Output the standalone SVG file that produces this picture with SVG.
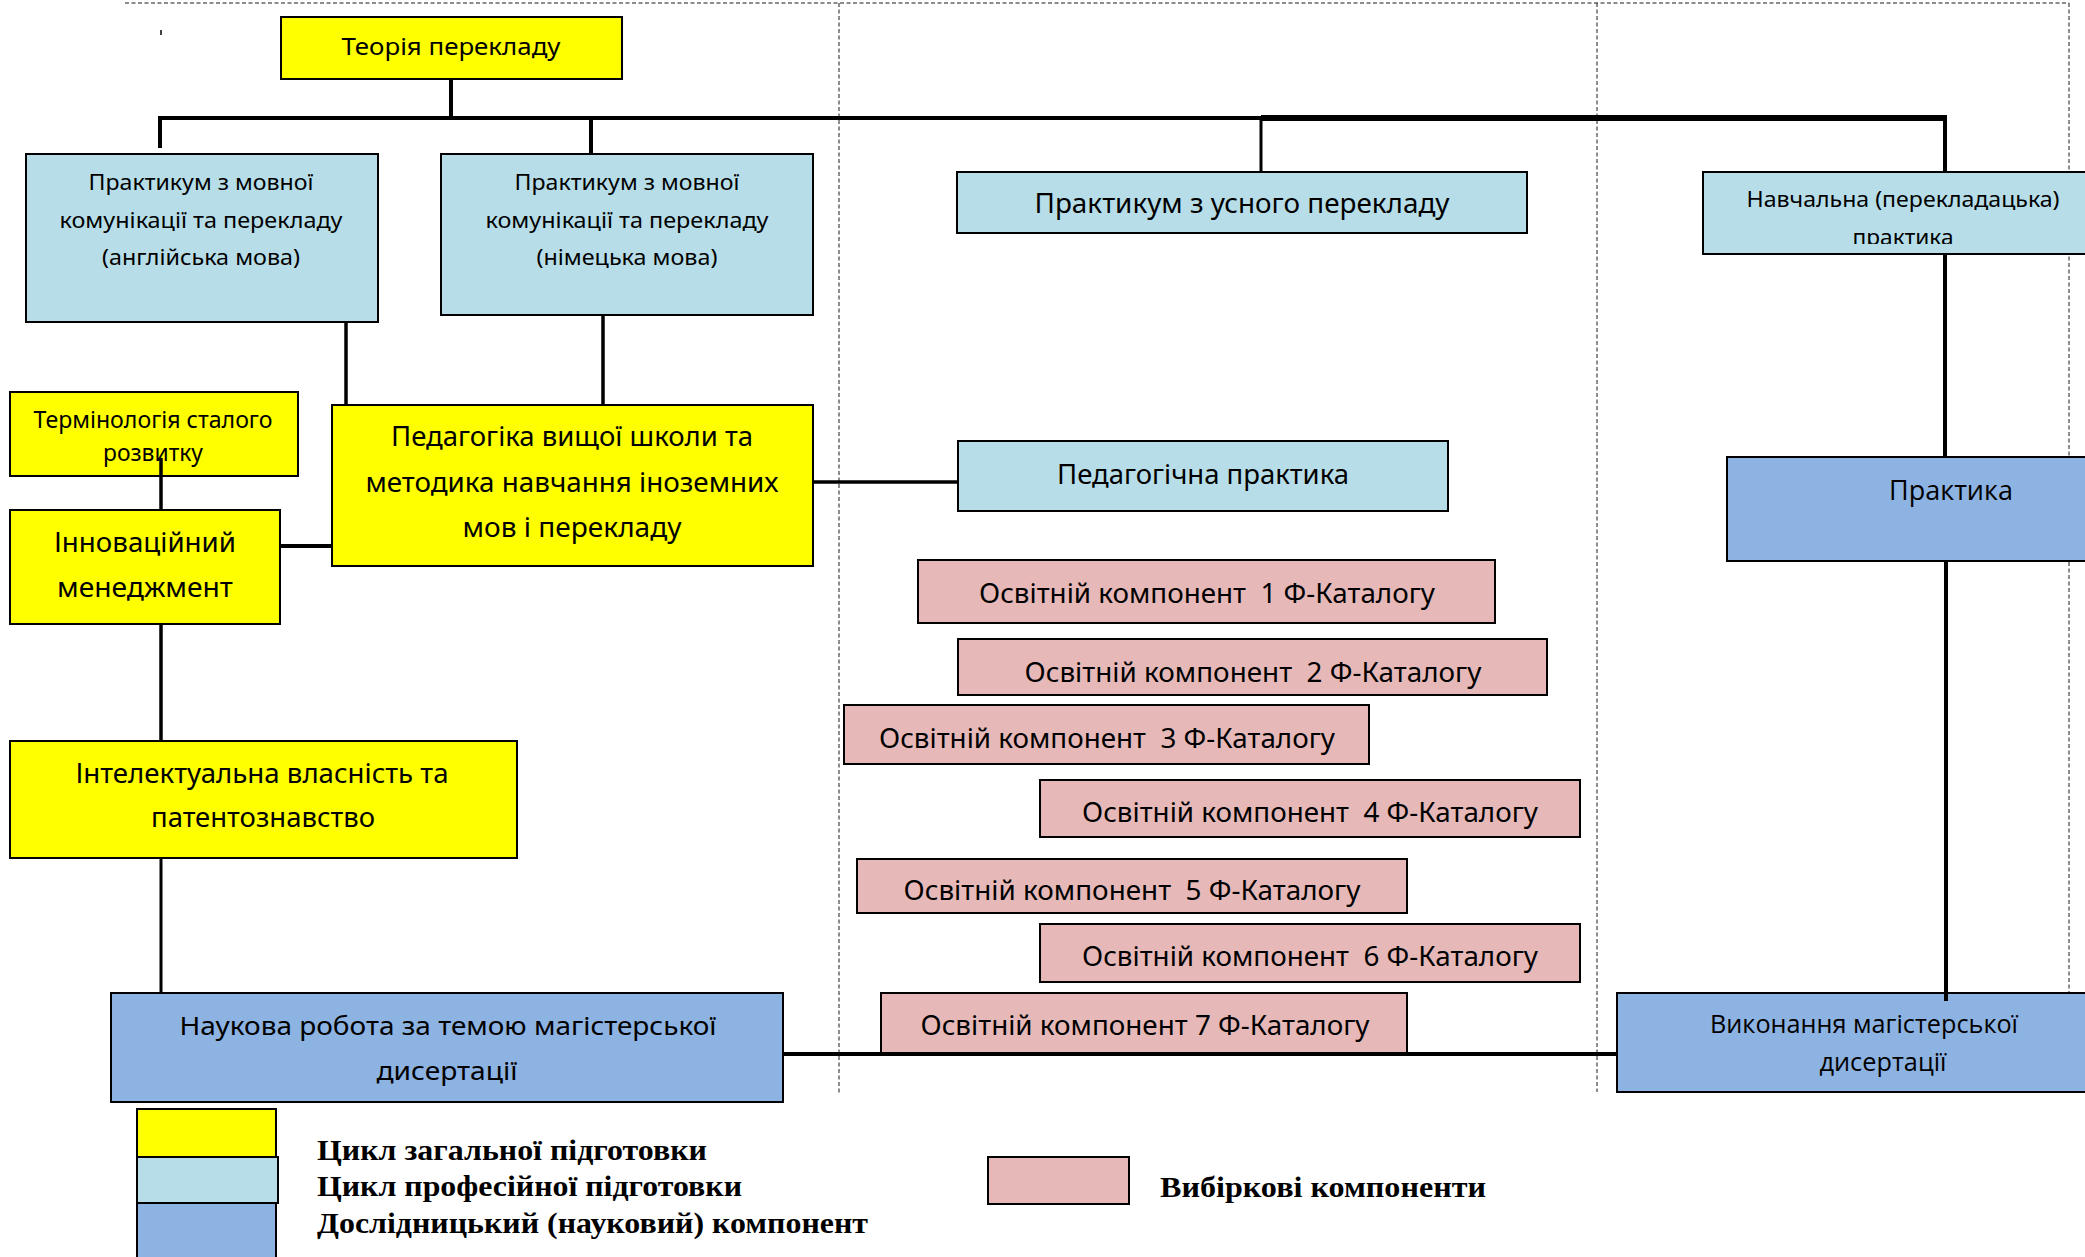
<svg xmlns="http://www.w3.org/2000/svg" width="2085" height="1257" viewBox="0 0 2085 1257">
<style>
.bx{stroke:#000;stroke-width:2}
.y{fill:#FFFF00}
.lb{fill:#B7DEE8}
.b{fill:#8DB3E2}
.p{fill:#E6B9B8}
.t{font-family:"Noto Sans","Open Sans",sans-serif;fill:#000;text-anchor:middle}
.o{font-family:"Open Sans","Noto Sans",sans-serif;fill:#000;text-anchor:middle}
.lg{font-family:"Liberation Serif","Times New Roman",serif;font-weight:bold;font-size:30px;fill:#000}
.c{stroke:#000;fill:none;stroke-linecap:butt}
.d{stroke:#1a1a1a;stroke-width:1;stroke-dasharray:4 2.5;fill:none}
</style>
<defs>
<clipPath id="clipNav"><rect x="1703" y="172" width="390" height="72"/></clipPath>
</defs>
<rect width="2085" height="1257" fill="#fff"/>
<g id="guides">
<line class="d" x1="125" y1="3" x2="2069" y2="3" stroke-dasharray="3 1.5"/>
<line class="d" x1="839" y1="3" x2="839" y2="1093"/>
<line class="d" x1="1597" y1="3" x2="1597" y2="1092"/>
<line class="d" x1="2069" y1="3" x2="2069" y2="992"/>
<line x1="161" y1="30" x2="161" y2="35" stroke="#000" stroke-width="1.5"/>
</g>
<g id="nodes">
<g id="n-teoria"><rect class="bx y" x="281" y="17" width="341" height="62"/>
<text class="t" x="451" y="55" font-size="23" textLength="219" lengthAdjust="spacingAndGlyphs">Теорія перекладу</text></g>
<g id="n-eng"><rect class="bx lb" x="26" y="154" width="352" height="168"/>
<text class="t" x="201" y="190" font-size="21" textLength="225" lengthAdjust="spacingAndGlyphs">Практикум з мовної</text>
<text class="t" x="201" y="228" font-size="21" textLength="283" lengthAdjust="spacingAndGlyphs">комунікації та перекладу</text>
<text class="t" x="201" y="265" font-size="21" textLength="198" lengthAdjust="spacingAndGlyphs">(англійська мова)</text></g>
<g id="n-ger"><rect class="bx lb" x="441" y="154" width="372" height="161"/>
<text class="t" x="627" y="190" font-size="21" textLength="225" lengthAdjust="spacingAndGlyphs">Практикум з мовної</text>
<text class="t" x="627" y="228" font-size="21" textLength="283" lengthAdjust="spacingAndGlyphs">комунікації та перекладу</text>
<text class="t" x="627" y="265" font-size="21" textLength="181" lengthAdjust="spacingAndGlyphs">(німецька мова)</text></g>
<g id="n-oral"><rect class="bx lb" x="957" y="172" width="570" height="61"/>
<text class="t" x="1242" y="213" font-size="27" textLength="415" lengthAdjust="spacingAndGlyphs">Практикум з усного перекладу</text></g>
<g id="n-navch"><rect class="bx lb" x="1703" y="172" width="390" height="82"/>
<text class="t" x="1903" y="207" font-size="22" textLength="313" lengthAdjust="spacingAndGlyphs">Навчальна (перекладацька)</text>
<text class="t" x="1903" y="245" font-size="22" textLength="101" lengthAdjust="spacingAndGlyphs" clip-path="url(#clipNav)">практика</text></g>
<g id="n-term"><rect class="bx y" x="10" y="392" width="288" height="84"/>
<text class="t" x="153" y="428" font-size="23" textLength="239" lengthAdjust="spacingAndGlyphs">Термінологія сталого</text>
<text class="t" x="153" y="461" font-size="23" textLength="100" lengthAdjust="spacingAndGlyphs">розвитку</text></g>
<g id="n-innov"><rect class="bx y" x="10" y="510" width="270" height="114"/>
<text class="t" x="145" y="552" font-size="28" textLength="182" lengthAdjust="spacingAndGlyphs">Інноваційний</text>
<text class="t" x="145" y="597" font-size="28" textLength="176" lengthAdjust="spacingAndGlyphs">менеджмент</text></g>
<g id="n-ped"><rect class="bx y" x="332" y="405" width="481" height="161"/>
<text class="t" x="572" y="446" font-size="28" textLength="362" lengthAdjust="spacingAndGlyphs">Педагогіка вищої школи та</text>
<text class="t" x="572" y="492" font-size="28" textLength="413" lengthAdjust="spacingAndGlyphs">методика навчання іноземних</text>
<text class="t" x="572" y="537" font-size="28" textLength="219" lengthAdjust="spacingAndGlyphs">мов і перекладу</text></g>
<g id="n-intel"><rect class="bx y" x="10" y="741" width="507" height="117"/>
<text class="t" x="262" y="783" font-size="28" textLength="373" lengthAdjust="spacingAndGlyphs">Інтелектуальна власність та</text>
<text class="t" x="263" y="827" font-size="28" textLength="224" lengthAdjust="spacingAndGlyphs">патентознавство</text></g>
<g id="n-pedprac"><rect class="bx lb" x="958" y="441" width="490" height="70"/>
<text class="t" x="1203" y="484" font-size="28" textLength="292" lengthAdjust="spacingAndGlyphs">Педагогічна практика</text></g>
<g id="n-ok1"><rect class="bx p" x="918" y="560" width="577" height="63"/>
<text class="t" x="1207" y="603" font-size="28" textLength="456" lengthAdjust="spacingAndGlyphs" xml:space="preserve">Освітній компонент  1 Ф-Каталогу</text></g>
<g id="n-ok2"><rect class="bx p" x="958" y="639" width="589" height="56"/>
<text class="t" x="1253" y="682" font-size="28" textLength="457" lengthAdjust="spacingAndGlyphs" xml:space="preserve">Освітній компонент  2 Ф-Каталогу</text></g>
<g id="n-ok3"><rect class="bx p" x="844" y="705" width="525" height="59"/>
<text class="t" x="1107" y="748" font-size="28" textLength="456" lengthAdjust="spacingAndGlyphs" xml:space="preserve">Освітній компонент  3 Ф-Каталогу</text></g>
<g id="n-ok4"><rect class="bx p" x="1040" y="780" width="540" height="57"/>
<text class="t" x="1310" y="822" font-size="28" textLength="456" lengthAdjust="spacingAndGlyphs" xml:space="preserve">Освітній компонент  4 Ф-Каталогу</text></g>
<g id="n-ok5"><rect class="bx p" x="857" y="859" width="550" height="54"/>
<text class="t" x="1132" y="900" font-size="28" textLength="457" lengthAdjust="spacingAndGlyphs" xml:space="preserve">Освітній компонент  5 Ф-Каталогу</text></g>
<g id="n-ok6"><rect class="bx p" x="1040" y="924" width="540" height="58"/>
<text class="t" x="1310" y="966" font-size="28" textLength="456" lengthAdjust="spacingAndGlyphs" xml:space="preserve">Освітній компонент  6 Ф-Каталогу</text></g>
<g id="n-ok7"><rect class="bx p" x="881" y="993" width="526" height="60"/>
<text class="t" x="1145" y="1035" font-size="28" textLength="449" lengthAdjust="spacingAndGlyphs">Освітній компонент 7 Ф-Каталогу</text></g>
<g id="n-praktyka"><rect class="bx b" x="1727" y="457" width="366" height="104"/>
<text class="o" x="1951" y="500" font-size="28" textLength="124" lengthAdjust="spacingAndGlyphs">Практика</text></g>
<g id="n-nauk"><rect class="bx b" x="111" y="993" width="672" height="109"/>
<text class="t" x="448" y="1035" font-size="26" textLength="537" lengthAdjust="spacingAndGlyphs">Наукова робота за темою магістерської</text>
<text class="t" x="447" y="1080" font-size="26" textLength="141" lengthAdjust="spacingAndGlyphs">дисертації</text></g>
<g id="n-vykon"><rect class="bx b" x="1617" y="993" width="476" height="99"/>
<text class="o" x="1864" y="1033" font-size="25" textLength="308" lengthAdjust="spacingAndGlyphs">Виконання магістерської</text>
<text class="o" x="1883" y="1071" font-size="25" textLength="127" lengthAdjust="spacingAndGlyphs">дисертації</text></g>
</g>
<g id="connectors">
<line class="c" x1="451" y1="79" x2="451" y2="118" stroke-width="4"/>
<line class="c" x1="158" y1="118" x2="1261" y2="118" stroke-width="4"/>
<line class="c" x1="1261" y1="118" x2="1947" y2="118" stroke-width="6"/>
<line class="c" x1="160" y1="116" x2="160" y2="148" stroke-width="4"/>
<line class="c" x1="591" y1="118" x2="591" y2="154" stroke-width="4"/>
<line class="c" x1="1261" y1="118" x2="1261" y2="172" stroke-width="3"/>
<line class="c" x1="1945" y1="118" x2="1945" y2="172" stroke-width="4"/>
<line class="c" x1="346" y1="322" x2="346" y2="405" stroke-width="3.5"/>
<line class="c" x1="603" y1="315" x2="603" y2="405" stroke-width="3.5"/>
<line class="c" x1="161" y1="458" x2="161" y2="510" stroke-width="3.5"/>
<line class="c" x1="280" y1="546" x2="332" y2="546" stroke-width="4"/>
<line class="c" x1="813" y1="482" x2="958" y2="482" stroke-width="3.5"/>
<line class="c" x1="161" y1="624" x2="161" y2="741" stroke-width="3.5"/>
<line class="c" x1="161" y1="858" x2="161" y2="993" stroke-width="3"/>
<line class="c" x1="1945" y1="254" x2="1945" y2="457" stroke-width="4"/>
<line class="c" x1="1946" y1="561" x2="1946" y2="1001" stroke-width="4"/>
<line class="c" x1="783" y1="1054" x2="1617" y2="1054" stroke-width="4"/>
</g>
<g id="legend">
<rect class="bx y" x="137" y="1109" width="139" height="48"/>
<rect class="bx lb" x="137" y="1157" width="141" height="46"/>
<rect class="bx b" x="137" y="1203" width="139" height="56"/>
<rect class="bx p" x="988" y="1157" width="141" height="47"/>
<text class="lg" x="317" y="1160" textLength="390" lengthAdjust="spacingAndGlyphs">Цикл загальної підготовки</text>
<text class="lg" x="317" y="1196" textLength="425" lengthAdjust="spacingAndGlyphs">Цикл професійної підготовки</text>
<text class="lg" x="317" y="1233" textLength="551" lengthAdjust="spacingAndGlyphs">Дослідницький (науковий) компонент</text>
<text class="lg" x="1160" y="1197" textLength="326" lengthAdjust="spacingAndGlyphs">Вибіркові компоненти</text>
</g>
</svg>
